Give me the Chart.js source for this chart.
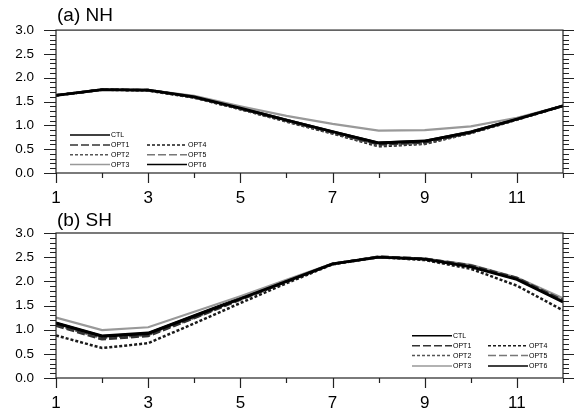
<!DOCTYPE html>
<html><head><meta charset="utf-8">
<script src="https://cdn.jsdelivr.net/npm/chart.js@4.4.1/dist/chart.umd.min.js"></script>
<style>
html,body{margin:0;padding:0;background:#fff;}
#wrap{position:relative;width:579px;height:413px;overflow:hidden;}
canvas{position:absolute;left:0;}
</style></head><body>
<div id="wrap">
<canvas id="c1" width="579" height="213" style="top:0;width:579px;height:213px"></canvas>
<canvas id="c2" width="579" height="213" style="top:200px;width:579px;height:213px"></canvas>
</div>
<script>
// ---- data ----
const months = [1,2,3,4,5,6,7,8,9,10,11,12];
const xTickLabels = [1,3,5,7,9,11];
const seriesNames = ['CTL','OPT1','OPT2','OPT3','OPT4','OPT5','OPT6'];

const nhCTL  = [1.63,1.75,1.74,1.60,1.36,1.11,0.87,0.63,0.67,0.86,1.13,1.41];
const nhOPT1 = [1.63,1.75,1.74,1.59,1.35,1.10,0.85,0.60,0.64,0.85,1.13,1.41];
const nhOPT2 = [1.63,1.75,1.74,1.59,1.34,1.09,0.84,0.58,0.62,0.84,1.12,1.41];
const nhOPT3 = [1.63,1.75,1.74,1.62,1.40,1.20,1.03,0.89,0.90,0.98,1.16,1.41];
const nhOPT4 = [1.63,1.75,1.73,1.58,1.34,1.08,0.83,0.56,0.61,0.84,1.12,1.41];
const nhOPT5 = [1.63,1.75,1.74,1.60,1.36,1.11,0.86,0.61,0.65,0.86,1.13,1.41];
const nhOPT6 = [1.63,1.75,1.74,1.60,1.37,1.12,0.87,0.64,0.68,0.87,1.14,1.41];

const shCTL  = [1.13,0.86,0.92,1.28,1.64,2.00,2.36,2.50,2.46,2.30,2.04,1.57];
const shOPT1 = [1.08,0.80,0.87,1.24,1.62,1.99,2.36,2.51,2.47,2.33,2.07,1.61];
const shOPT2 = [1.10,0.83,0.89,1.25,1.63,2.00,2.36,2.50,2.46,2.31,2.05,1.59];
const shOPT3 = [1.25,0.99,1.05,1.37,1.69,2.03,2.37,2.50,2.47,2.34,2.08,1.65];
const shOPT4 = [0.88,0.62,0.72,1.13,1.55,1.96,2.35,2.50,2.44,2.26,1.91,1.40];
const shOPT5 = [1.11,0.84,0.90,1.27,1.64,2.00,2.36,2.51,2.47,2.32,2.06,1.62];
const shOPT6 = [1.15,0.88,0.94,1.30,1.66,2.01,2.36,2.50,2.46,2.31,2.05,1.58];

// ---- styles ----
const FONT = "'Liberation Sans', Arial, Helvetica, sans-serif";
const styles = {
  CTL:  {color:'#000000', dash:[],    width:2.8},
  OPT1: {color:'#333333', dash:[8,3], width:2.5},
  OPT2: {color:'#555555', dash:[3,2], width:2.5},
  OPT3: {color:'#999999', dash:[],    width:2.2},
  OPT4: {color:'#1a1a1a', dash:[3,2], width:2.5},
  OPT5: {color:'#777777', dash:[8,3], width:2.5},
  OPT6: {color:'#000000', dash:[],    width:2.0}
};

function makeDatasets(arrs){
  return seriesNames.map((name,i)=>({
    label:name,
    data: months.map((m,j)=>({x:m, y:arrs[i][j]})),
    borderColor: styles[name].color,
    backgroundColor: styles[name].color,
    borderDash: styles[name].dash,
    borderWidth: styles[name].width,
    pointRadius:0, tension:0, fill:false
  }));
}

const framePlugin = {
  id:'frame',
  afterDraw(chart, args, opts){
    const ctx = chart.ctx, a = chart.chartArea;
    const xs = chart.scales.x, ys = chart.scales.y;
    ctx.save();
    ctx.strokeStyle = '#222'; ctx.lineWidth = 1.2;
    ctx.strokeRect(a.left, a.top, a.right-a.left, a.bottom-a.top);
    ctx.beginPath();
    months.forEach(m=>{
      const px = Math.round(xs.getPixelForValue(m))+0.5;
      const len = xTickLabels.includes(m) ? 10 : 5;
      ctx.moveTo(px, a.bottom); ctx.lineTo(px, a.bottom+len);
    });
    for(let i=0;i<=30;i++){
      const py = Math.round(ys.getPixelForValue(i/10))+0.5;
      const major = i%5===0;
      ctx.moveTo(a.left, py); ctx.lineTo(a.left-(major?12:6), py);
      ctx.moveTo(a.right, py); ctx.lineTo(a.right+(major?11:6), py);
    }
    ctx.stroke();
    // title
    ctx.fillStyle = '#000';
    ctx.font = '19px ' + FONT;
    ctx.textAlign = 'left'; ctx.textBaseline = 'alphabetic';
    ctx.fillText(opts.title, a.left+1, opts.titleY);
    // legend
    const L = opts.legend;
    ctx.font = '7px ' + FONT;
    ctx.textBaseline = 'middle';
    const layout = [[0,0],[0,1],[0,2],[0,3],[1,1],[1,2],[1,3]];
    chart.data.datasets.forEach((ds,i)=>{
      const [col,row] = layout[i];
      const x0 = L.cols[col], y = L.rows[row];
      ctx.beginPath();
      ctx.setLineDash(ds.borderDash);
      ctx.strokeStyle = ds.borderColor; ctx.lineWidth = 1.5;
      ctx.moveTo(x0, y); ctx.lineTo(x0+40, y); ctx.stroke();
      ctx.setLineDash([]);
      ctx.fillStyle = '#000';
      ctx.fillText(ds.label, x0+41, y+0.5);
    });
    ctx.restore();
  }
};

function makeChart(id, arrs, title, padTop, xH, titleY, legend){
  return new Chart(document.getElementById(id), {
    type:'line',
    data:{datasets: makeDatasets(arrs)},
    plugins:[framePlugin],
    options:{
      responsive:false, animation:false, devicePixelRatio:1,
      layout:{padding:{top:padTop, right:16, left:0, bottom:0}},
      plugins:{legend:{display:false}, tooltip:{enabled:false}, title:{display:false},
        frame:{title:title, titleY:titleY, legend:legend}},
      scales:{
        x:{type:'linear', min:1, max:12,
           grid:{drawOnChartArea:false, drawTicks:false},
           border:{display:false},
           ticks:{stepSize:1, autoSkip:false, maxRotation:0, padding:15, color:'#000',
                  font:{family:FONT, size:17},
                  callback:v=> xTickLabels.includes(v) ? String(v) : ''},
           afterFit:s=>{s.height = xH;}},
        y:{min:0, max:3,
           grid:{drawOnChartArea:false, drawTicks:false},
           border:{display:false},
           ticks:{stepSize:0.5, padding:22, color:'#000', font:{family:FONT, size:13.5},
                  callback:v=> Number(v).toFixed(1)},
           afterFit:s=>{s.width = 56;}}
      }
    }
  });
}

makeChart('c1', [nhCTL,nhOPT1,nhOPT2,nhOPT3,nhOPT4,nhOPT5,nhOPT6], '(a) NH', 28, 40, 20.5,
  {cols:[70,147], rows:[135,145,154.7,164.5]});
makeChart('c2', [shCTL,shOPT1,shOPT2,shOPT3,shOPT4,shOPT5,shOPT6], '(b) SH', 33, 35, 25.5,
  {cols:[412,488], rows:[135.7,145.7,155.5,166]});
</script>
</body></html>
